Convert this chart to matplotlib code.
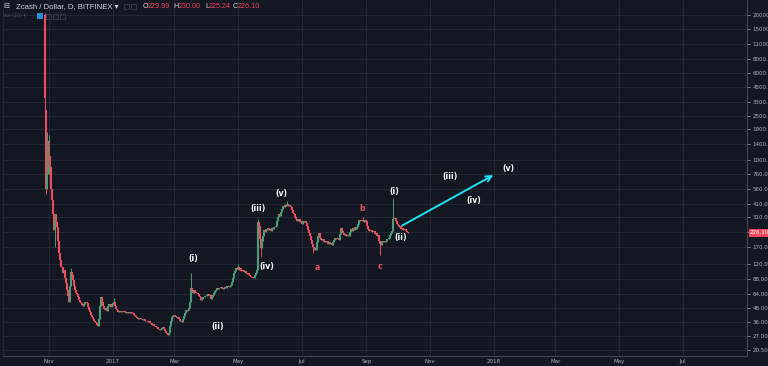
import matplotlib
matplotlib.use("Agg")
import matplotlib.pyplot as plt
import matplotlib.dates as mdates
from matplotlib.ticker import FixedLocator, FixedFormatter, NullLocator
from matplotlib.patches import Rectangle
import pandas as pd

# daily ZEC/USD closes, starting 2016-10-28
first_day = "2016-10-28"
closes = [
    3600, 560, 1500, 750, 1100, 870, 560, 440, 330, 240,
    330, 280, 254, 190, 150, 129, 112, 99, 105, 90,
    80, 70, 62, 54, 75, 100, 95, 85, 75, 70,
    66, 64, 60, 57, 55, 53, 51, 50, 52, 55,
    53, 49, 46, 44, 42, 40, 38, 37, 36, 35,
    34, 33, 38, 50, 60, 55, 50, 47, 46, 48,
    45, 50, 52, 49, 51, 53, 55, 50, 47, 46,
    44, 45, 44, 45, 44.5, 44, 45, 44, 43.5, 44,
    43, 44, 43.5, 44, 43, 42, 41, 40, 39, 38.5,
    39, 39.5, 38, 38.5, 37.5, 38, 37, 36.5, 37, 36,
    36.5, 35.5, 35, 34, 34.5, 33.5, 33, 32.5, 31.5, 31,
    30.5, 31, 32, 32.5, 31, 30, 29, 28, 27.5, 29,
    33, 37, 40, 41, 42, 41, 40, 39, 40, 38,
    37, 36, 38, 41, 43, 46, 45, 46, 48, 55,
    72, 68, 66, 70, 67, 65, 66, 64, 62, 60,
    57, 58, 60, 62, 61, 63, 64, 62, 63, 58,
    60, 63, 66, 68, 70, 72, 71, 73, 72, 74,
    73, 71, 72, 74, 73, 75, 74, 76, 78, 82,
    90, 98, 104, 110, 108, 112, 106, 109, 104, 102,
    105, 100, 103, 98, 97, 99, 95, 93, 91, 89,
    90, 94, 98, 105, 280, 260, 200, 165, 190, 210,
    240, 230, 245, 238, 250, 240, 245, 235, 250, 245,
    255, 260, 290, 310, 330, 320, 345, 370, 390, 380,
    400, 395, 410, 390, 400, 395, 380, 360, 340, 330,
    310, 300, 290, 300, 280, 285, 270, 290, 280, 285,
    276, 260, 240, 225, 210, 195, 180, 170, 160, 165,
    158, 185, 210, 225, 205, 195, 200, 188, 192, 185,
    190, 180, 185, 178, 182, 175, 185, 195, 205, 200,
    198, 205, 195, 220, 250, 235, 225, 215, 222, 210,
    218, 212, 230, 245, 235, 250, 240, 252, 245, 255,
    270, 295, 290, 285, 295, 290, 280, 295, 285, 260,
    245, 235, 240, 230, 228, 232, 220, 225, 210, 215,
    190, 180, 175, 190, 188, 192, 185, 190, 198, 200,
    205, 215, 225, 232, 300, 305, 285, 270, 265, 255,
    258, 245, 250, 240, 238, 242, 233, 229.99, 226.10,
]
# opens default to previous close; these days gapped
open_fix = {0: 20000, 1: 2800, 348: 229.99}
# visible wicks
high_fix = {0: 20500, 2: 1800, 4: 1700, 25: 110, 54: 62, 66: 59, 140: 99,
            185: 118, 204: 300, 232: 430, 305: 310, 334: 460, 348: 230.00}
low_fix = {0: 1400, 1: 500, 10: 170, 207: 137, 257: 149, 321: 143, 348: 225.24}

price_ticks = [20000, 15000, 11000, 8000, 6000, 4500, 3300, 2500, 1900, 1400, 1000,
               760, 560, 410, 310, 230, 170, 120, 88, 64, 48, 36, 27, 20.5]
month_ticks = ["2016-11-01", "2017-01-01", "2017-03-01", "2017-05-01", "2017-07-01",
               "2017-09-01", "2017-11-01", "2018-01-01", "2018-03-01", "2018-05-01",
               "2018-07-01"]
month_labels = ["Nov", "2017", "Mar", "May", "Jul", "Sep", "Nov", "2018", "Mar", "May", "Jul"]

wave_text = ["(i)", "(ii)", "(iii)", "(iv)", "(v)", "(i)", "(ii)", "(iii)", "(iv)", "(v)"]
wave_date = ["2017-03-19", "2017-04-12", "2017-05-20", "2017-05-29", "2017-06-12",
             "2017-09-28", "2017-10-04", "2017-11-20", "2017-12-13", "2018-01-15"]
wave_price = [132, 33, 373, 114, 508, 526, 206, 716, 437, 850]
abc_text = ["a", "b", "c"]
abc_date = ["2017-07-16", "2017-08-28", "2017-09-14"]
abc_price = [110, 373, 112]
arrow_from = ("2017-10-03", 255)
arrow_to = ("2018-01-03", 760)

bg = "#131722"
grid = "#232733"
up_col = "#4a9d74"
down_col = "#ef4d5d"
txt = "#b2b5be"
head_font = ["Liberation Sans", "DejaVu Sans"]

fig = plt.figure(figsize=(7.68, 3.66), dpi=100, facecolor=bg)
ax = fig.add_axes([3 / 768, 10 / 366, 744 / 768, 356 / 366], facecolor=bg)

dates = pd.date_range(first_day, periods=len(closes))
xs = mdates.date2num(dates)
opens, highs, lows = [], [], []
for i, c in enumerate(closes):
    o = open_fix.get(i, closes[i - 1] if i > 0 else c)
    opens.append(o)
    highs.append(high_fix.get(i, max(o, c)))
    lows.append(low_fix.get(i, min(o, c)))

cols = [up_col if c >= o else down_col for o, c in zip(opens, closes)]
ax.vlines(xs, lows, highs, colors=cols, lw=0.7, zorder=3)
ax.vlines(xs, [min(o, c) for o, c in zip(opens, closes)],
          [max(o, c) for o, c in zip(opens, closes)], colors=cols, lw=1.5, zorder=3)

ax.set_yscale("log")
ax.set_ylim(17.94, 27050)
ax.set_xlim(mdates.date2num(pd.Timestamp(first_day)) - 40,
            mdates.date2num(pd.Timestamp(first_day)) + 672.6)

ax.yaxis.tick_right()
ax.yaxis.set_major_locator(FixedLocator(price_ticks))
ax.yaxis.set_major_formatter(FixedFormatter(["" if p == 230 else f"{p:.2f}" for p in price_ticks]))
ax.yaxis.set_minor_locator(NullLocator())
mt = mdates.date2num(pd.to_datetime(month_ticks))
ax.xaxis.set_major_locator(FixedLocator(mt))
ax.xaxis.set_major_formatter(FixedFormatter(month_labels))
ax.xaxis.set_minor_locator(NullLocator())
ax.tick_params(axis="y", colors=txt, labelsize=4, length=2.5, width=0.5, pad=1.5, labelcolor=txt)
ax.tick_params(axis="x", colors=txt, labelsize=4, length=0, pad=2.5, labelcolor=txt)
ax.grid(True, color=grid, lw=0.8, zorder=0)
ax.spines["top"].set_visible(False)
ax.spines["left"].set_color(grid)
for s in ["right", "bottom"]:
    ax.spines[s].set_color("#434651")
    ax.spines[s].set_linewidth(0.8)

# last price tag
ax.text(1.004, 226.10, "226.10", transform=ax.get_yaxis_transform(), fontsize=4,
        color="white", va="center", ha="left", clip_on=False,
        bbox=dict(boxstyle="square,pad=0.25", fc="#f0465a", ec="none"))

# elliott wave labels and projection arrow
for t, d, p in zip(wave_text, wave_date, wave_price):
    ax.text(mdates.date2num(pd.Timestamp(d)), p, t, color="white", fontsize=5.6,
            fontweight="bold", ha="center", va="center", zorder=5)
for t, d, p in zip(abc_text, abc_date, abc_price):
    ax.text(mdates.date2num(pd.Timestamp(d)), p, t, color="#e8525f", fontsize=5.6,
            fontweight="bold", ha="center", va="center", zorder=5)
ax.annotate("", xy=(mdates.date2num(pd.Timestamp(arrow_to[0])), arrow_to[1]),
            xytext=(mdates.date2num(pd.Timestamp(arrow_from[0])), arrow_from[1]),
            arrowprops=dict(arrowstyle="->", color="#1fe2f2", lw=1.4, mutation_scale=10),
            zorder=6)

# header
def px(x, y):
    return x / 768, 1 - y / 366

fig.text(*px(3, 6.5), "\u229f", color="#d1d4dc", fontsize=5, va="center")
fig.text(*px(16, 6.5), "Zcash / Dollar, D, BITFINEX \u25be", color="#d1d4dc",
         fontsize=5.6, family=head_font, va="center")
for x, s, c in [(142.5, "O", "#d1d4dc"), (147.8, "229.99", "#f0465a"),
                (173.3, "H", "#d1d4dc"), (178.6, "230.00", "#f0465a"),
                (205, "L", "#d1d4dc"), (209, "225.24", "#f0465a"),
                (232.3, "C", "#d1d4dc"), (237.5, "226.10", "#f0465a")]:
    fig.text(*px(x, 6.5), s, color=c, fontsize=5.2, family=head_font, va="center")
for x in (124, 131):
    fig.patches.append(Rectangle(px(x, 9), 5 / 768, 5 / 366, transform=fig.transFigure,
                                 fc="none", ec="#3a3e4a", lw=0.6))
fig.text(*px(3, 16), "Vol (20) \u25be", color="#4c505b", fontsize=3.5,
         family=["DejaVu Sans"], va="center")
fig.patches.append(Rectangle(px(37, 19), 6 / 768, 6 / 366, transform=fig.transFigure,
                             fc="#2a8ad6", ec="none"))
for x in (46, 53, 60):
    fig.patches.append(Rectangle(px(x, 19), 5 / 768, 5 / 366, transform=fig.transFigure,
                                 fc="none", ec="#3a3e4a", lw=0.6))

fig.savefig("out.png", dpi=100, facecolor=bg)
